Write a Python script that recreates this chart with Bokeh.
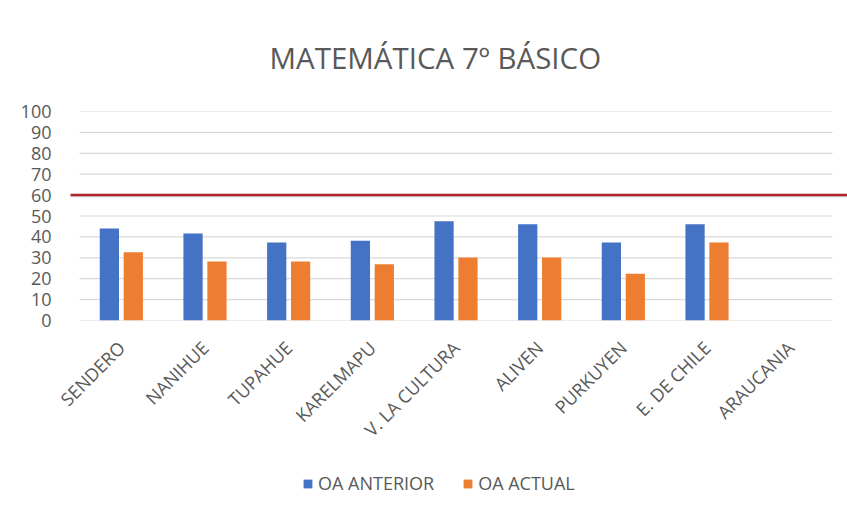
import math
from bokeh.plotting import figure
from bokeh.layouts import column
from bokeh.models import Range1d, FixedTicker, Legend, LegendItem, Title
from bokeh.embed import file_html
from bokeh.resources import INLINE

categories = ["SENDERO", "NANIHUE", "TUPAHUE", "KARELMAPU", "V. LA CULTURA",
              "ALIVEN", "PURKUYEN", "E. DE CHILE", "ARAUCANIA"]
oa_anterior = [44, 41.6, 37.3, 38.2, 47.5, 46.1, 37.3, 46.1, None]
oa_actual = [32.6, 28.2, 28.2, 26.9, 30.2, 30.2, 22.4, 37.3, None]
series_names = ["OA ANTERIOR", "OA ACTUAL"]
reference_level = 60
y_ticks = list(range(0, 101, 10))

FONT = "Open Sans"
GRAY = "#595959"
BLUE = "#4472C4"
ORANGE = "#ED7D31"

W = 847
H_MAIN, H_LEG = 462, 55

p = figure(width=W, height=H_MAIN, output_backend="svg", toolbar_location=None,
           x_range=Range1d(-0.1076, 9.179), y_range=Range1d(0, 100),
           min_border_left=70, min_border_right=0, min_border_top=109,
           min_border_bottom=142)
p.outline_line_color = None
p.xgrid.visible = False
p.ygrid.visible = False
p.background_fill_color = "white"
p.border_fill_color = "white"

n = len(categories)
p.segment(x0=[0] * len(y_ticks), x1=[n] * len(y_ticks), y0=y_ticks, y1=y_ticks,
          line_color="#D9D9D9", line_width=1.2)

xa = [i + 0.5 - 0.143 for i, v in enumerate(oa_anterior) if v is not None]
ya = [v for v in oa_anterior if v is not None]
xb = [i + 0.5 + 0.143 for i, v in enumerate(oa_actual) if v is not None]
yb = [v for v in oa_actual if v is not None]
p.vbar(x=xa, top=ya, bottom=0, width=0.23, fill_color=BLUE, line_color=None)
p.vbar(x=xb, top=yb, bottom=0, width=0.23, fill_color=ORANGE, line_color=None)

p.segment(x0=[-0.3], x1=[9.3], y0=[reference_level - 0.5], y1=[reference_level - 0.5],
          line_color="#7A7A7A", line_width=2, line_alpha=0.3)
p.segment(x0=[-0.3], x1=[9.3], y0=[reference_level], y1=[reference_level],
          line_color="#B0262C", line_width=2.5)

p.xaxis.ticker = FixedTicker(ticks=[i + 0.5 for i in range(n)])
p.xaxis.major_label_overrides = {i + 0.5: c for i, c in enumerate(categories)}
p.xaxis.major_label_orientation = math.pi / 4
p.xaxis.axis_line_color = None
p.xaxis.major_tick_line_color = None
p.xaxis.minor_tick_line_color = None
p.xaxis.major_label_text_font = FONT
p.xaxis.major_label_text_font_size = "18px"
p.xaxis.major_label_text_color = GRAY
p.xaxis.major_label_standoff = 18

p.yaxis.ticker = FixedTicker(ticks=y_ticks)
p.yaxis.axis_line_color = None
p.yaxis.major_tick_line_color = None
p.yaxis.minor_tick_line_color = None
p.yaxis.major_label_text_font = FONT
p.yaxis.major_label_text_font_size = "18px"
p.yaxis.major_label_text_color = GRAY
p.yaxis.major_label_standoff = 13

p.title = Title(text="MATEMÁTICA 7º BÁSICO", align="left", text_font=FONT,
                text_font_size="29.5px", text_font_style="normal", text_color=GRAY,
                standoff=68, offset=199)

# legend strip: a small figure whose bars lie far outside its view (only the legend shows)
pl = figure(width=W, height=H_LEG, output_backend="svg", toolbar_location=None,
            x_range=Range1d(100, 109), y_range=Range1d(200, 210),
            min_border_left=0, min_border_right=0, min_border_top=0,
            min_border_bottom=0)
pl.axis.visible = False
pl.grid.visible = False
pl.outline_line_color = None
pl.border_fill_color = "white"
la = pl.vbar(x=xa, top=ya, bottom=0, width=0.23, fill_color=BLUE, line_color=None)
lb = pl.vbar(x=xb, top=yb, bottom=0, width=0.23, fill_color=ORANGE, line_color=None)
legend = Legend(items=[LegendItem(label=series_names[0], renderers=[la]),
                       LegendItem(label=series_names[1], renderers=[lb])],
                orientation="horizontal", location=(232, 22),
                glyph_width=11, glyph_height=11, label_standoff=5, spacing=28,
                padding=0, margin=0, border_line_color=None,
                background_fill_alpha=0,
                label_text_font=FONT, label_text_font_size="18px",
                label_text_color=GRAY)
pl.add_layout(legend, "center")

root = column(p, pl, spacing=0)
open("out.html", "w").write(file_html(root, INLINE))
